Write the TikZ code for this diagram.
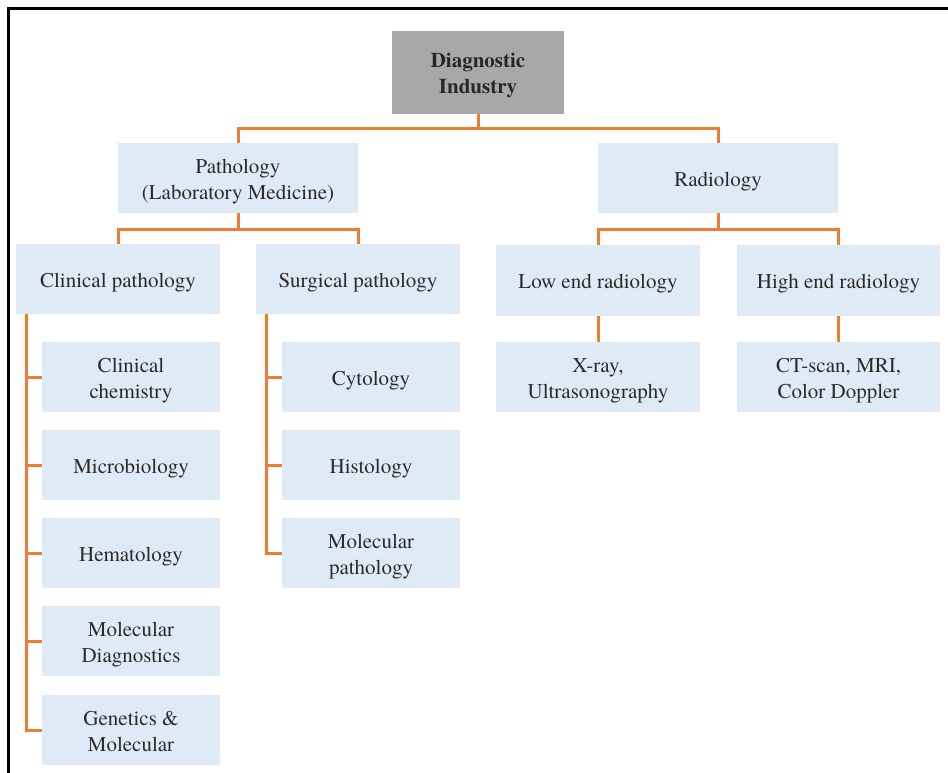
\documentclass[tikz,border=0pt]{standalone}
\usepackage{fontspec}
\setmainfont{texgyretermes}[Extension=.otf, UprightFont=*-regular, BoldFont=*-bold, ItalicFont=*-italic, BoldItalicFont=*-bolditalic]
\definecolor{boxblue}{HTML}{DEEAF6}
\definecolor{boxgray}{HTML}{A8A8A8}
\definecolor{linkorange}{HTML}{ED7D31}
\definecolor{txt}{HTML}{2B2B2B}
\newcommand\lbl[1]{\raisebox{-3pt}[\height][\depth]{\begin{tabular}{@{}c@{}}#1\end{tabular}}}
\tikzset{
  box/.style={fill=boxblue, draw=none, inner sep=0pt, text=txt,
    font=\fontsize{21}{26}\selectfont},
  topbox/.style={box, fill=boxgray, font=\fontsize{21}{26}\selectfont\bfseries, text=black!85},
  conn/.style={draw=linkorange, line width=3pt},
}
\begin{document}
\begin{tikzpicture}[x=1pt,y=-1pt]
\useasboundingbox (0,0) rectangle (948,773);
\draw[line width=3pt, line cap=rect] (8,773) -- (8,9) -- (948,9);

% top
\node[topbox, minimum width=172pt, minimum height=83pt] (di) at (478,72.5) {\lbl{Diagnostic\\Industry}};
% second level
\node[box, minimum width=240pt, minimum height=70pt] (path) at (238,178) {\lbl{Pathology\\(Laboratory Medicine)}};
\node[box, minimum width=240pt, minimum height=70pt] (rad) at (718,178) {\lbl{Radiology}};
% third level
\node[box, minimum width=204pt, minimum height=70pt] (cp) at (118,279) {\lbl{Clinical pathology}};
\node[box, minimum width=204pt, minimum height=70pt] (sp) at (358,279) {\lbl{Surgical pathology}};
\node[box, minimum width=204pt, minimum height=71pt] (le) at (598,280.5) {\lbl{Low end radiology}};
\node[box, minimum width=203pt, minimum height=71pt] (he) at (838.5,280.5) {\lbl{High end radiology}};
% radiology leaves
\node[box, minimum width=204pt, minimum height=70pt] (xr) at (598,377) {\lbl{X-ray,\\Ultrasonography}};
\node[box, minimum width=203pt, minimum height=70pt] (ct) at (838.5,377) {\lbl{CT-scan, MRI,\\Color Doppler}};
% clinical pathology leaves
\node[box, minimum width=178pt, minimum height=70pt] (cc) at (131,377) {\lbl{Clinical\\chemistry}};
\node[box, minimum width=178pt, minimum height=70pt] (mb) at (131,465) {\lbl{Microbiology}};
\node[box, minimum width=178pt, minimum height=70pt] (hm) at (131,553) {\lbl{Hematology}};
\node[box, minimum width=178pt, minimum height=70pt] (md) at (131,641) {\lbl{Molecular\\Diagnostics}};
\node[box, minimum width=178pt, minimum height=70pt] (gm) at (131,730) {\lbl{Genetics \&\\Molecular}};
% surgical pathology leaves
\node[box, minimum width=178pt, minimum height=70pt] (cy) at (371,377) {\lbl{Cytology}};
\node[box, minimum width=178pt, minimum height=70pt] (hi) at (371,465) {\lbl{Histology}};
\node[box, minimum width=178pt, minimum height=70pt] (mp) at (371,553) {\lbl{Molecular\\pathology}};

% connectors
\draw[conn] (di.south) -- ++(0,14) -| (path.north);
\draw[conn] (di.south) -- ++(0,14) -| (rad.north);
\draw[conn] (path.south) -- ++(0,16) -| (cp.north);
\draw[conn] (path.south) -- ++(0,16) -| (sp.north);
\draw[conn] (rad.south) -- ++(0,16) -| (le.north);
\draw[conn] (rad.south) -- ++(0,16) -| (he.north);
\draw[conn] (le.south) -- (xr.north);
\draw[conn] (he.south) -- (ct.north);
\foreach \c in {cc,mb,hm,md,gm}{
  \draw[conn] (cp.south west) ++(11,0) |- (\c.west);
}
\foreach \c in {cy,hi,mp}{
  \draw[conn] (sp.south west) ++(11,0) |- (\c.west);
}
\end{tikzpicture}
\end{document}
